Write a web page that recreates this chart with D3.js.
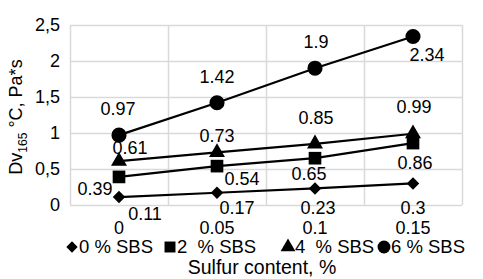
<!DOCTYPE html>
<html>
<head>
<meta charset="utf-8">
<script src="https://cdn.jsdelivr.net/npm/d3@7"></script>
<style>
  body { margin: 0; background: #fff; }
  text { font-family: "Liberation Sans", Arial, sans-serif; fill: #000; white-space: pre; }
</style>
</head>
<body>
<div id="chart"></div>
<script>
const categories = ['0', '0.05', '0.1', '0.15'];
const yTicks = [0, 0.5, 1, 1.5, 2, 2.5];
const seriesNames = ['0 % SBS', '2  % SBS', '4  % SBS', '6 % SBS'];
const sbs0 = [0.11, 0.17, 0.23, 0.3];
const sbs2 = [0.39, 0.54, 0.65, 0.86];
const sbs4 = [0.61, 0.73, 0.85, 0.99];
const sbs6 = [0.97, 1.42, 1.9, 2.34];

// label offsets (dx, dy) per point, like the hand-placed labels in the original
const labelOffsets = [
  [[26, 17], [20, 15], [3, 19], [0, 24]],
  [[-24, 12], [25, 13], [-6, 15], [2, 20]],
  [[11, -13], [0, -17], [1, -26], [1, -27]],
  [[-1, -26], [0, -26], [1, -27], [14, 18]],
];

// diamond = square turned 45deg
const series = [
  { name: seriesNames[0], values: sbs0, symbol: d3.symbolSquare, size: 78, rot: 45, legSize: 64 },
  { name: seriesNames[1], values: sbs2, symbol: d3.symbolSquare, size: 160, rot: 0, legSize: 120 },
  { name: seriesNames[2], values: sbs4, symbol: d3.symbolTriangle, size: 110, rot: 0, legSize: 95 },
  { name: seriesNames[3], values: sbs6, symbol: d3.symbolCircle, size: 180, rot: 0, legSize: 130 },
];

const size = { width: 483, height: 279 };
const margin = { left: 70, top: 25, right: 21, bottom: 74 };

const svg = d3.select('#chart')
  .append('svg')
  .attr('width', size.width)
  .attr('height', size.height);

const x = d3.scaleBand()
  .domain(categories)
  .range([margin.left, size.width - margin.right]);

const y = d3.scaleLinear()
  .domain([0, 2.5])
  .range([size.height - margin.bottom, margin.top]);

// grid
svg.selectAll('.hgrid')
  .data(yTicks)
  .enter()
  .append('line')
  .attr('x1', x.range()[0])
  .attr('x2', x.range()[1])
  .attr('y1', (d) => Math.round(y(d)) + 0.5)
  .attr('y2', (d) => Math.round(y(d)) + 0.5)
  .attr('stroke', '#d9d9d9')
  .attr('stroke-width', 1.5);

const bounds = categories.map((c) => x(c)).concat([x.range()[1]]);
svg.selectAll('.vgrid')
  .data(bounds)
  .enter()
  .append('line')
  .attr('x1', (d) => Math.round(d) + 0.5)
  .attr('x2', (d) => Math.round(d) + 0.5)
  .attr('y1', y(0))
  .attr('y2', y(2.5))
  .attr('stroke', '#d9d9d9')
  .attr('stroke-width', 1.5);

// y axis labels
const yAxis = svg.append('g')
  .attr('transform', `translate(${margin.left - 7},0)`)
  .call(d3.axisLeft(y).tickValues(yTicks).tickSize(0).tickFormat((d) => String(d).replace('.', ',')));
yAxis.select('.domain').remove();
yAxis.selectAll('text')
  .attr('font-size', 18)
  .attr('font-family', '"Liberation Sans", Arial, sans-serif')
  .attr('fill', '#000');

// x axis labels
const xAxis = svg.append('g')
  .attr('transform', `translate(0,${y(0) + 23})`)
  .call(d3.axisBottom(x).tickSize(0));
xAxis.select('.domain').remove();
xAxis.selectAll('text')
  .attr('font-size', 18)
  .attr('font-family', '"Liberation Sans", Arial, sans-serif')
  .attr('fill', '#000')
  .attr('y', 0)
  .attr('dy', '0.35em');

const cx = (i) => x(categories[i]) + x.bandwidth() / 2;

const line = d3.line()
  .x((d, i) => cx(i))
  .y((d) => y(d));

series.forEach((s, si) => {
  svg.append('path')
    .datum(s.values)
    .attr('d', line)
    .attr('fill', 'none')
    .attr('stroke', '#000')
    .attr('stroke-width', 2.2);

  svg.selectAll(`.pt${si}`)
    .data(s.values)
    .enter()
    .append('path')
    .attr('d', d3.symbol().type(s.symbol).size(s.size))
    .attr('transform', (d, i) => `translate(${cx(i)},${y(d)}) rotate(${s.rot})`)
    .attr('fill', '#000');
});

series.forEach((s, si) => {
  svg.selectAll(`.lab${si}`)
    .data(s.values)
    .enter()
    .append('text')
    .attr('x', (d, i) => cx(i) + labelOffsets[si][i][0])
    .attr('y', (d, i) => y(d) + labelOffsets[si][i][1])
    .attr('dy', '0.35em')
    .attr('text-anchor', 'middle')
    .attr('font-size', 18)
    .text((d) => d);
});

// y title
const yTitle = svg.append('text')
  .attr('transform', `translate(22,${(y(0) + y(2.5)) / 2 + 2}) rotate(-90)`)
  .attr('text-anchor', 'middle')
  .attr('font-size', 18);
yTitle.append('tspan').text('Dv');
yTitle.append('tspan').attr('font-size', 12).attr('dy', 5).text('165');
yTitle.append('tspan').attr('dy', -5).text(' °C, Pa*s');

// legend
const legendX = [72, 170, 288, 384];
const legend = svg.selectAll('.legend')
  .data(series)
  .enter()
  .append('g')
  .attr('transform', (d, i) => `translate(${legendX[i]},247)`);
legend.append('path')
  .attr('d', (d) => d3.symbol().type(d.symbol).size(d.legSize)())
  .attr('transform', (d) => `rotate(${d.rot})`)
  .attr('fill', '#000');
legend.append('text')
  .attr('x', 7)
  .attr('dy', '0.35em')
  .attr('font-size', 18.5)
  .text((d) => d.name);

svg.append('text')
  .attr('x', 262)
  .attr('y', 267)
  .attr('dy', '0.35em')
  .attr('text-anchor', 'middle')
  .attr('font-size', 19.5)
  .text('Sulfur content, %');
</script>
</body>
</html>
